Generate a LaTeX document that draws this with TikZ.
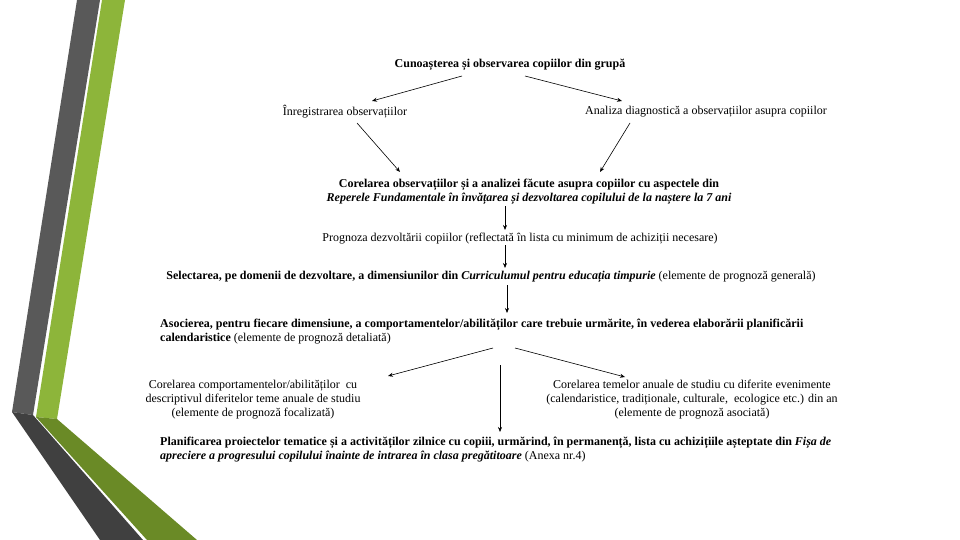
\documentclass[tikz,border=0pt]{standalone}
\usepackage{fontspec}
\setmainfont{Liberation Serif}
\usepackage{xcolor}
\usetikzlibrary{arrows.meta,positioning}

\definecolor{bandgrey}{HTML}{595959}
\definecolor{banddark}{HTML}{404040}
\definecolor{bandgreen}{HTML}{8DB53A}
\definecolor{bandolive}{HTML}{6A8A26}

\begin{document}
\begin{tikzpicture}[x=1pt, y=-1pt,
    txt/.style={inner sep=0pt, font=\fontsize{12}{14}\selectfont},
    btxt/.style={inner sep=0pt, font=\fontsize{12}{14}\selectfont\bfseries},
    arrow/.style={-{Stealth[length=5pt,width=4pt]}, line width=0.6pt}
]
\useasboundingbox (0,0) rectangle (960,540);

% Side bands
\fill[bandgrey] (77,0) -- (100,0) -- (33,415) -- (12,412) -- cycle;
\fill[banddark] (12,412) -- (33,415) -- (143,540) -- (100,540) -- cycle;
\fill[bandgreen] (102,0) -- (125,0) -- (57,419) -- (36,417) -- cycle;
\fill[bandolive] (36,417) -- (57,419) -- (197,540) -- (147,540) -- cycle;

% Observation
\node[btxt] (know) at (510,65) {Cunoașterea și observarea copiilor din grupă};
\node[txt] (record) at (345,112) {Înregistrarea observațiilor};
\node[txt] (diag) at (706,112) {Analiza diagnostică a observațiilor asupra copiilor};
\node[btxt, align=center] (corr) at (529,192)
    {Corelarea observațiilor și a analizei făcute asupra copiilor cu aspectele din\\
     \textit{Reperele Fundamentale în învățarea și dezvoltarea copilului de la naștere la 7 ani}};

% Prognosis chain
\node[txt] (prog) at (520,239) {Prognoza dezvoltării copiilor (reflectată în lista cu minimum de achiziții necesare)};
\node[btxt] (select) at (491,277) {Selectarea, pe domenii de dezvoltare, a dimensiunilor din
    \textit{Curriculumul pentru educația timpurie} \mdseries(elemente de prognoză generală)};
\node[btxt, align=left, anchor=west] (assoc) at (160,331.5)
    {Asocierea, pentru fiecare dimensiune, a comportamentelor/abilităților care trebuie urmărite, în vederea elaborării planificării\\
     calendaristice \mdseries(elemente de prognoză detaliată)};

% Correlations
\node[txt, align=center] (skills) at (253,400)
    {Corelarea comportamentelor/abilităților \ cu\\
     descriptivul diferitelor teme anuale de studiu\\
     (elemente de prognoză focalizată)};
\node[txt, align=center] (events) at (692,400)
    {Corelarea temelor anuale de studiu cu diferite evenimente\\
     (calendaristice, tradiționale, culturale, \ ecologice etc.) din an\\
     (elemente de prognoză asociată)};

% Planning
\node[btxt, align=left, anchor=west] (plan) at (160,450)
    {Planificarea proiectelor tematice și a activităților zilnice cu copiii, urmărind, în permanență, lista cu achizițiile așteptate din \textit{Fișa de}\\
     \textit{apreciere a progresului copilului înainte de intrarea în clasa pregătitoare} \mdseries(Anexa nr.4)};

% Connectors
\draw[arrow] ([shift={(-48,11)}]know.center) -- ([shift={(27,-11)}]record.center);
\draw[arrow] ([shift={(15,11)}]know.center) -- ([shift={(-84,-11)}]diag.center);
\draw[arrow] ([shift={(12,11)}]record.center) -- ([shift={(-129,-20)}]corr.center);
\draw[arrow] ([shift={(-76,11)}]diag.center) -- ([shift={(71,-20)}]corr.center);
\draw[arrow] ([shift={(-24,14)}]corr.center) -- ([shift={(-15,-9)}]prog.center);
\draw[arrow] ([shift={(-15,6)}]prog.center) -- ([shift={(14,-9)}]select.center);
\draw[arrow] ([shift={(16,8)}]select.center) -- ([shift={(347,-18.5)}]assoc.west);
\draw[arrow] ([shift={(333,16.5)}]assoc.west) -- ([shift={(135,-24)}]skills.center);
\draw[arrow] ([shift={(355,16.5)}]assoc.west) -- ([shift={(-67,-23)}]events.center);
\draw[arrow] ([shift={(340,33.5)}]assoc.west) -- ([shift={(340,-18)}]plan.west);
\end{tikzpicture}
\end{document}
